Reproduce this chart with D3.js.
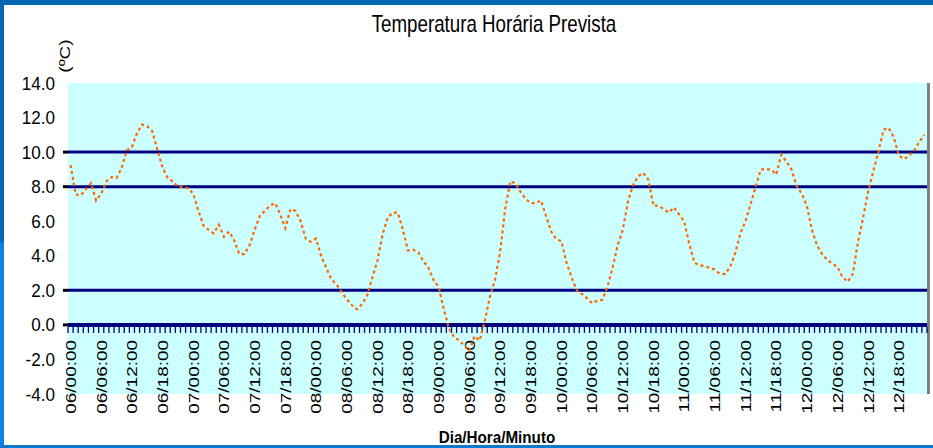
<!DOCTYPE html>
<html>
<head>
<meta charset="utf-8">
<script src="https://cdn.jsdelivr.net/npm/d3@7.9.0/dist/d3.min.js"></script>
<style>
  html, body { margin: 0; padding: 0; background: #fff; }
  svg { display: block; font-family: "Liberation Sans", Arial, sans-serif; }
</style>
</head>
<body>
<svg id="chart" width="933" height="448"></svg>
<script>
// ─────────── DATA ───────────
// hourly forecast temperature (ºC), 168 hours
const temps = [
  9.25, 7.55, 7.5, 7.85, 8.2, 7.2, 7.6, 8.3, 8.55, 8.5, 9.1, 10.1,
  10.3, 11.1, 11.6, 11.5, 11.2, 10.1, 9.1, 8.5, 8.3, 8.0, 8.0, 7.9,
  7.6, 6.6, 5.75, 5.5, 5.3, 5.8, 5.1, 5.4, 4.9, 4.1, 4.1, 4.6,
  5.5, 6.3, 6.6, 6.9, 7.05, 6.4, 5.6, 6.7, 6.6, 6.0, 5.0, 4.8,
  5.0, 4.0, 3.3, 2.65, 2.35, 1.9, 1.5, 1.15, 0.9, 1.2, 1.7, 2.7,
  3.7, 5.2, 6.2, 6.5, 6.5, 5.5, 4.3, 4.35, 4.2, 3.7, 3.3, 2.6,
  2.2, 0.9, -0.2, -0.7, -0.9, -1.2, -1.5, -0.65, -0.9, 0.2, 1.6, 2.6,
  4.2, 6.7, 8.3, 8.2, 7.7, 7.3, 7.05, 7.05, 7.2, 6.3, 5.4, 4.95,
  4.85, 3.6, 2.75, 2.0, 1.8, 1.55, 1.25, 1.4, 1.45, 2.2, 3.3, 4.6,
  5.5, 7.1, 8.1, 8.6, 8.8, 8.4, 6.9, 6.9, 6.7, 6.5, 6.8, 6.4,
  6.0, 4.7, 3.6, 3.45, 3.4, 3.3, 3.2, 2.95, 2.95, 3.35, 4.15, 5.3,
  6.0, 7.0, 8.0, 9.0, 9.0, 9.0, 8.7, 9.85, 9.45, 9.0, 8.05, 7.6,
  6.9, 5.5, 4.6, 4.1, 3.75, 3.55, 3.35, 2.75, 2.5, 2.95, 4.8, 6.2,
  7.75, 8.9, 10.0, 11.3, 11.4, 10.85, 9.8, 9.6, 9.8, 10.1, 10.6, 11.0
];

// one label every 6 hours
const tickLabels = [
  "06/00:00", "06/06:00", "06/12:00", "06/18:00",
  "07/00:00", "07/06:00", "07/12:00", "07/18:00",
  "08/00:00", "08/06:00", "08/12:00", "08/18:00",
  "09/00:00", "09/06:00", "09/12:00", "09/18:00",
  "10/00:00", "10/06:00", "10/12:00", "10/18:00",
  "11/00:00", "11/06:00", "11/12:00", "11/18:00",
  "12/00:00", "12/06:00", "12/12:00", "12/18:00"
];
const labelEvery = 6;

const yTicks = [-4, -2, 0, 2, 4, 6, 8, 10, 12, 14];
const gridValues = [10, 8, 2];

const title = "Temperatura Horária Prevista";
const yTitle = "(ºC)";
const xTitle = "Dia/Hora/Minuto";

// ─────────── LAYOUT ───────────
const svg = d3.select("#chart");
const plot = { left: 68, right: 927, top: 83, bottom: 394 };

const x = d3.scaleBand()
  .domain(d3.range(temps.length))
  .range([plot.left, plot.right])
  .padding(0);
const bw = x.bandwidth();
const cx = i => x(i) + bw / 2;

const y = d3.scaleLinear().domain([-4, 14]).range([plot.bottom, plot.top]);

// squeeze text horizontally like the original rendering
function squeeze(sel, k) {
  sel.each(function () {
    const w = this.getComputedTextLength();
    d3.select(this).attr("textLength", w * k).attr("lengthAdjust", "spacingAndGlyphs");
  });
}

// plot background + right shadow
svg.append("rect")
  .attr("x", plot.left).attr("y", plot.top)
  .attr("width", plot.right - plot.left).attr("height", plot.bottom - plot.top)
  .attr("fill", "#ccffff");
svg.append("rect")
  .attr("x", plot.right).attr("y", plot.top)
  .attr("width", 3).attr("height", plot.bottom - plot.top)
  .attr("fill", "#808080");

// gridlines
svg.selectAll("line.grid")
  .data(gridValues)
  .join("line")
  .attr("class", "grid")
  .attr("x1", plot.left).attr("x2", plot.right)
  .attr("y1", d => y(d)).attr("y2", d => y(d))
  .attr("stroke", "#000080").attr("stroke-width", 3);

// small left tick marks
svg.selectAll("line.ytick")
  .data(gridValues.concat([0]))
  .join("line")
  .attr("class", "ytick")
  .attr("x1", plot.left - 5).attr("x2", plot.left)
  .attr("y1", d => y(d)).attr("y2", d => y(d))
  .attr("stroke", "#000").attr("stroke-width", 3);

// y tick labels
const yAxis = svg.append("g")
  .attr("transform", `translate(${plot.left},0)`)
  .call(d3.axisLeft(y).tickValues(yTicks).tickSize(0).tickPadding(13)
    .tickFormat(d => d.toFixed(1)));
yAxis.select(".domain").remove();
yAxis.selectAll("text")
  .attr("font-size", 19)
  .attr("font-family", "Liberation Sans, Arial, sans-serif")
  .attr("fill", "#000")
  .call(squeeze, 0.9);

// x axis line at 0
svg.append("line")
  .attr("x1", plot.left).attr("x2", plot.right)
  .attr("y1", y(0)).attr("y2", y(0))
  .attr("stroke", "#000080").attr("stroke-width", 4);

// hourly tick marks below the axis
svg.selectAll("line.xtick")
  .data(d3.range(temps.length + 1))
  .join("line")
  .attr("class", "xtick")
  .attr("x1", i => plot.left + i * bw).attr("x2", i => plot.left + i * bw)
  .attr("y1", y(0) + 2).attr("y2", y(0) + 8)
  .attr("stroke", "#000080").attr("stroke-width", 1.3);

// category labels, rotated
svg.selectAll("text.xlab")
  .data(tickLabels)
  .join("text")
  .attr("class", "xlab")
  .attr("transform", (d, k) => `translate(${cx(k * labelEvery)},${y(0) + 15}) rotate(-90) scale(1,0.8)`)
  .attr("text-anchor", "end")
  .attr("dy", "0.35em")
  .attr("font-size", 19)
  .attr("fill", "#000")
  .text(d => d);

// temperature series
const line = d3.line()
  .x((d, i) => cx(i))
  .y(d => y(d));
svg.append("path")
  .datum(temps)
  .attr("d", line)
  .attr("fill", "none")
  .attr("stroke", "#ff6600")
  .attr("stroke-width", 2.2)
  .attr("stroke-dasharray", "3 3");

// titles
svg.append("text")
  .attr("x", 494).attr("y", 32)
  .attr("text-anchor", "middle")
  .attr("font-size", 24)
  .attr("fill", "#000")
  .text(title)
  .call(squeeze, 0.78);

svg.append("text")
  .attr("transform", "translate(70,56) rotate(-90) scale(1,0.8)")
  .attr("text-anchor", "middle")
  .attr("font-size", 19)
  .attr("fill", "#000")
  .text(yTitle);

svg.append("text")
  .attr("x", 497).attr("y", 443)
  .attr("text-anchor", "middle")
  .attr("font-size", 16)
  .attr("font-weight", "bold")
  .attr("fill", "#000")
  .text(xTitle)
  .call(squeeze, 0.95);

// frame
svg.append("rect").attr("x", 0).attr("y", 0).attr("width", 933).attr("height", 5).attr("fill", "#0068b0");
svg.append("rect").attr("x", 0).attr("y", 0).attr("width", 4).attr("height", 242).attr("fill", "#0068b0");
svg.append("rect").attr("x", 0).attr("y", 242).attr("width", 4).attr("height", 206).attr("fill", "#0a84e0");
svg.append("rect").attr("x", 0).attr("y", 445).attr("width", 933).attr("height", 3).attr("fill", "#0a7acc");
</script>
</body>
</html>
